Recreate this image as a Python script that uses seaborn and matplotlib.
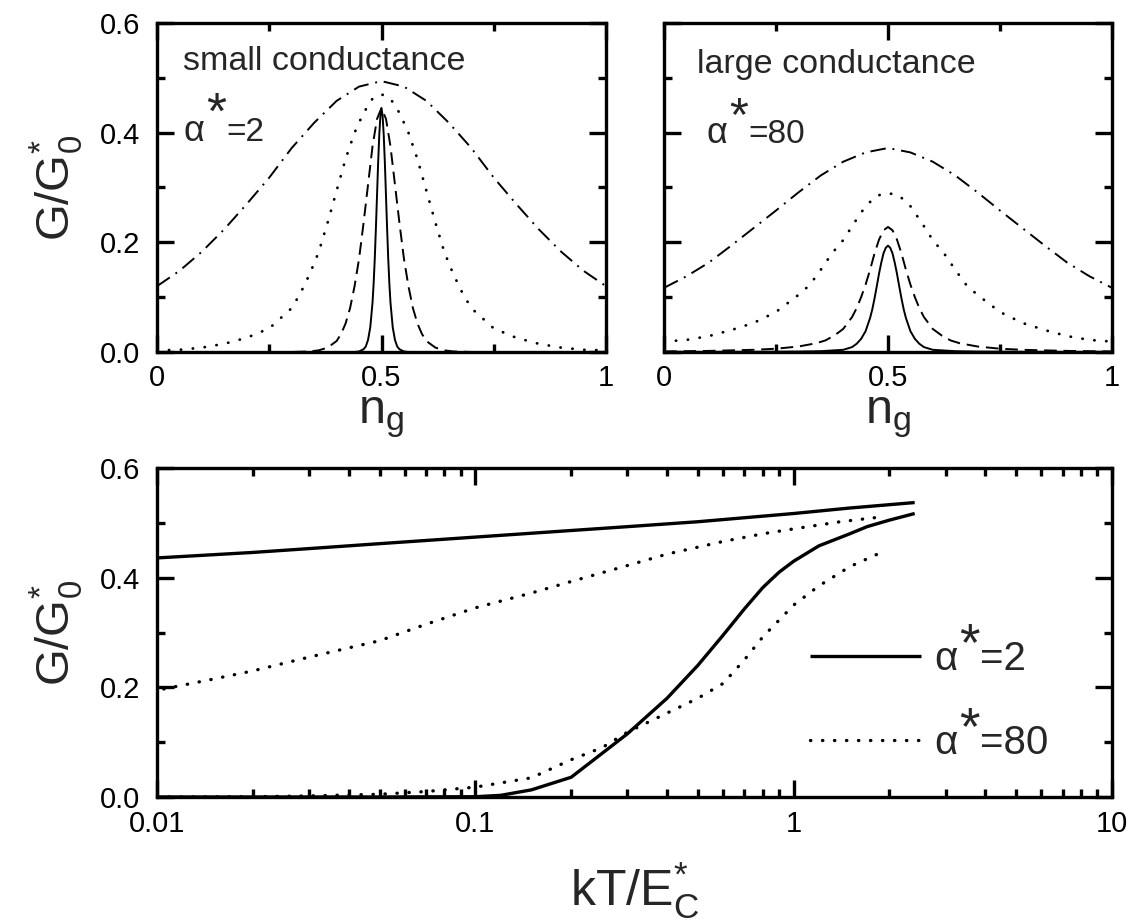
import matplotlib
matplotlib.use("Agg")
import matplotlib.pyplot as plt
import seaborn as sns
from matplotlib.ticker import FixedLocator, LogLocator, NullFormatter

# ---------------- data ----------------
# top-left panel, alpha* = 2 (small conductance), four temperatures
ng_a2_solid = [0, 0.1, 0.2, 0.3, 0.4, 0.44, 0.45, 0.46, 0.465, 0.47, 0.475, 0.48,
               0.4825, 0.485, 0.4875, 0.49, 0.4925, 0.495, 0.4975, 0.5, 0.5025, 0.505,
               0.5075, 0.51, 0.5125, 0.515, 0.5175, 0.52, 0.525, 0.53, 0.535, 0.54,
               0.55, 0.56, 0.6, 0.7, 0.8, 0.9, 1.0]
g_a2_solid = [0, 0, 0, 0, 0, 0, 0.001, 0.005, 0.01, 0.022, 0.045, 0.09,
              0.125, 0.17, 0.225, 0.285, 0.345, 0.395, 0.43, 0.445, 0.43, 0.395,
              0.345, 0.285, 0.225, 0.17, 0.125, 0.09, 0.045, 0.022, 0.01, 0.005,
              0.001, 0, 0, 0, 0, 0, 0]

ng_a2_dashed = [0, 0.1, 0.2, 0.3, 0.34, 0.36, 0.38, 0.4, 0.41, 0.42, 0.43, 0.44, 0.45,
                0.46, 0.47, 0.48, 0.49, 0.5, 0.51, 0.52, 0.53, 0.54, 0.55, 0.56, 0.57,
                0.58, 0.59, 0.6, 0.62, 0.64, 0.66, 0.7, 0.8, 0.9, 1.0]
g_a2_dashed = [0, 0, 0, 0, 0.001, 0.003, 0.008, 0.02, 0.033, 0.052, 0.08, 0.12, 0.17,
               0.235, 0.305, 0.375, 0.425, 0.445, 0.425, 0.375, 0.305, 0.235, 0.17, 0.12, 0.08,
               0.052, 0.033, 0.02, 0.008, 0.003, 0.001, 0, 0, 0, 0]

ng_a2_dotted = [0, 0.05, 0.1, 0.15, 0.2, 0.25, 0.3, 0.32, 0.34, 0.36, 0.38, 0.4, 0.42,
                0.44, 0.46, 0.48, 0.5, 0.52, 0.54, 0.56, 0.58, 0.6, 0.62, 0.64, 0.66,
                0.68, 0.7, 0.75, 0.8, 0.85, 0.9, 0.95, 1.0]
g_a2_dotted = [0.003, 0.004, 0.008, 0.015, 0.026, 0.043, 0.08, 0.108, 0.142, 0.182, 0.236, 0.294, 0.352,
               0.40, 0.436, 0.462, 0.47, 0.462, 0.436, 0.40, 0.352, 0.294, 0.236, 0.182, 0.142,
               0.108, 0.08, 0.043, 0.026, 0.015, 0.008, 0.004, 0.003]

ng_a2_dashdot = [0.0, 0.05, 0.1, 0.15, 0.2, 0.25, 0.3, 0.35, 0.4, 0.45, 0.5,
                 0.55, 0.6, 0.65, 0.7, 0.75, 0.8, 0.85, 0.9, 0.95, 1.0]
g_a2_dashdot = [0.12, 0.148, 0.183, 0.224, 0.27, 0.318, 0.372, 0.418, 0.458, 0.484, 0.494,
                0.484, 0.458, 0.418, 0.372, 0.318, 0.27, 0.224, 0.183, 0.148, 0.12]

# top-right panel, alpha* = 80 (large conductance)
ng_a80_solid = [0, 0.1, 0.2, 0.3, 0.35, 0.4, 0.42, 0.43, 0.44, 0.45, 0.46, 0.465, 0.47,
                0.475, 0.48, 0.485, 0.49, 0.495, 0.5, 0.505, 0.51, 0.515, 0.52, 0.525,
                0.53, 0.535, 0.54, 0.55, 0.56, 0.57, 0.58, 0.6, 0.65, 0.7, 0.8, 0.9, 1.0]
g_a80_solid = [0.0002, 0.0003, 0.0004, 0.0008, 0.0015, 0.004, 0.009, 0.015, 0.024, 0.038, 0.062, 0.078, 0.098,
               0.12, 0.143, 0.163, 0.18, 0.19, 0.194, 0.19, 0.18, 0.163, 0.143, 0.12,
               0.098, 0.078, 0.062, 0.038, 0.024, 0.015, 0.009, 0.004, 0.0015, 0.0008, 0.0004, 0.0003, 0.0002]

ng_a80_dashed = [0, 0.1, 0.2, 0.25, 0.3, 0.34, 0.36, 0.38, 0.4, 0.42, 0.43, 0.44, 0.45,
                 0.46, 0.47, 0.48, 0.49, 0.5, 0.51, 0.52, 0.53, 0.54, 0.55, 0.56, 0.57,
                 0.58, 0.6, 0.62, 0.64, 0.66, 0.7, 0.75, 0.8, 0.9, 1.0]
g_a80_dashed = [0.001, 0.002, 0.004, 0.006, 0.01, 0.016, 0.021, 0.03, 0.042, 0.064, 0.08, 0.1, 0.123,
                0.15, 0.18, 0.205, 0.222, 0.228, 0.222, 0.205, 0.18, 0.15, 0.123, 0.1, 0.08,
                0.064, 0.042, 0.03, 0.021, 0.016, 0.01, 0.006, 0.004, 0.002, 0.001]

ng_a80_dotted = [0, 0.05, 0.1, 0.15, 0.2, 0.25, 0.3, 0.325, 0.35, 0.375, 0.4, 0.425, 0.45,
                 0.475, 0.5, 0.525, 0.55, 0.575, 0.6, 0.625, 0.65, 0.675, 0.7, 0.75, 0.8,
                 0.85, 0.9, 0.95, 1.0]
g_a80_dotted = [0.019, 0.022, 0.029, 0.04, 0.053, 0.073, 0.104, 0.122, 0.15, 0.18, 0.204, 0.236, 0.266,
                0.285, 0.29, 0.285, 0.266, 0.236, 0.204, 0.18, 0.15, 0.122, 0.104, 0.073, 0.053,
                0.04, 0.029, 0.022, 0.019]

ng_a80_dashdot = [0.0, 0.05, 0.1, 0.15, 0.2, 0.25, 0.3, 0.35, 0.4, 0.45, 0.5,
                  0.55, 0.6, 0.65, 0.7, 0.75, 0.8, 0.85, 0.9, 0.95, 1.0]
g_a80_dashdot = [0.117, 0.138, 0.163, 0.194, 0.226, 0.258, 0.291, 0.322, 0.347, 0.364, 0.372,
                 0.364, 0.347, 0.322, 0.291, 0.258, 0.226, 0.194, 0.163, 0.138, 0.117]

# bottom panel: G/G0* vs kT/Ec* (peak and valley of the oscillation)
kt_a2_peak = [0.01, 0.02, 0.03, 0.05, 0.1, 0.2, 0.3, 0.5, 1.0, 1.5, 2.4]
g_a2_peak = [0.436, 0.446, 0.453, 0.462, 0.474, 0.486, 0.493, 0.502, 0.517, 0.527, 0.537]

kt_a2_valley = [0.01, 0.05, 0.1, 0.12, 0.15, 0.2, 0.3, 0.4, 0.5, 0.6, 0.7, 0.8, 0.9, 1.0,
                1.2, 1.5, 1.7, 2.0, 2.4]
g_a2_valley = [0, 0, 0.0005, 0.003, 0.013, 0.036, 0.115, 0.18, 0.24, 0.295, 0.343, 0.382, 0.41, 0.43,
               0.458, 0.48, 0.493, 0.505, 0.517]

kt_a80_peak = [0.0105, 0.015, 0.02, 0.03, 0.05, 0.07, 0.1, 0.15, 0.2, 0.3, 0.4, 0.6, 0.8,
               1.0, 1.4, 1.9]
g_a80_peak = [0.197, 0.215, 0.23, 0.255, 0.285, 0.315, 0.345, 0.372, 0.393, 0.422, 0.443, 0.466, 0.48,
              0.489, 0.502, 0.511]

kt_a80_valley = [0.01, 0.02, 0.03, 0.05, 0.07, 0.1, 0.15, 0.2, 0.25, 0.3, 0.4, 0.5, 0.6,
                 0.7, 0.8, 1.0, 1.2, 1.5, 1.9]
g_a80_valley = [0, 0.0005, 0.002, 0.005, 0.01, 0.018, 0.035, 0.068, 0.09, 0.118, 0.153, 0.18, 0.207,
                0.25, 0.292, 0.35, 0.385, 0.42, 0.447]

ng_ticks = [0, 0.5, 1]
ng_ticklabels = ["0", "0.5", "1"]
g_ticks = [0, 0.2, 0.4, 0.6]
g_ticklabels = ["0.0", "0.2", "0.4", "0.6"]
kt_ticks = [0.01, 0.1, 1, 10]
kt_ticklabels = ["0.01", "0.1", "1", "10"]
alpha_values = ["=2", "=80"]

# ---------------- style ----------------
sns.set_style("ticks")
plt.rcParams.update({
    "font.family": ["Liberation Sans", "DejaVu Sans"],
    "mathtext.fontset": "custom",
    "mathtext.rm": "Liberation Sans",
    "mathtext.it": "Liberation Sans",
    "mathtext.bf": "Liberation Sans:bold",
    "mathtext.sf": "Liberation Sans",
    "mathtext.default": "regular",
    "axes.linewidth": 2.4,
    "axes.edgecolor": "black",
    "xtick.direction": "in", "ytick.direction": "in",
    "xtick.top": True, "ytick.right": True,
    "xtick.major.size": 12, "ytick.major.size": 12,
    "xtick.minor.size": 6, "ytick.minor.size": 6,
    "xtick.major.width": 2.4, "ytick.major.width": 2.4,
    "xtick.minor.width": 2.4, "ytick.minor.width": 2.4,
    "xtick.color": "black", "ytick.color": "black",
    "xtick.labelsize": 21, "ytick.labelsize": 21,
    "xtick.major.pad": 9, "ytick.major.pad": 12,
})

DASHED = (0, (6.5, 3.5))
DOTTED = (0, (0.1, 4.2))
DASHDOT = (0, (8, 3.5, 1, 3.5))
DOTTED_B = (0, (0.1, 3.5))


def draw(ax, x, y, lw, ls, cap="butt"):
    sns.lineplot(x=x, y=y, ax=ax, color="black", linewidth=lw, linestyle=ls,
                 dash_capstyle=cap, solid_capstyle="butt", errorbar=None,
                 estimator=None, sort=False, legend=False)
    return ax.lines[-1]


def star_label(ax, t_alpha, rest, size, ast_size, dy, dx=1.5, y_coord=None):
    """Put a large raised asterisk and the value after an 'α' text artist."""
    t_ast = ax.annotate("*", xy=(1, 1), xycoords=t_alpha, xytext=(dx, dy),
                        textcoords="offset points", ha="left", va="top",
                        fontsize=ast_size, zorder=10, annotation_clip=False)
    if y_coord is None:
        ax.annotate(rest, xy=(1, 0), xycoords=(t_ast, t_alpha), xytext=(0, 0),
                    textcoords="offset points", ha="left", va="bottom",
                    fontsize=size, zorder=10, annotation_clip=False)
    else:
        ax.annotate(rest, xy=(1, y_coord), xycoords=(t_ast, "axes fraction"),
                    xytext=(0, 0), textcoords="offset points", ha="left",
                    va="baseline", fontsize=size, zorder=10, annotation_clip=False)


W, H = 1133, 921
fig = plt.figure(figsize=(W / 100, H / 100), dpi=100)
ax1 = fig.add_axes([157 / W, 1 - 352 / H, 449 / W, 329 / H])
ax2 = fig.add_axes([664 / W, 1 - 352 / H, 448 / W, 329 / H])
ax3 = fig.add_axes([157 / W, 1 - 797 / H, 955 / W, 329 / H])

# top-left
draw(ax1, ng_a2_dashdot, g_a2_dashdot, 1.4, DASHDOT)
draw(ax1, ng_a2_dotted, g_a2_dotted, 2.0, DOTTED, cap="round")
draw(ax1, ng_a2_dashed, g_a2_dashed, 1.4, DASHED)
draw(ax1, ng_a2_solid, g_a2_solid, 1.4, "-")
# top-right
draw(ax2, ng_a80_dashdot, g_a80_dashdot, 1.4, DASHDOT)
draw(ax2, ng_a80_dotted, g_a80_dotted, 2.0, DOTTED, cap="round")
draw(ax2, ng_a80_dashed, g_a80_dashed, 1.4, DASHED)
draw(ax2, ng_a80_solid, g_a80_solid, 1.4, "-")

for ax in (ax1, ax2):
    ax.set_xlim(0, 1)
    ax.set_ylim(0, 0.6)
    ax.set_xticks(ng_ticks, ng_ticklabels)
    ax.xaxis.set_minor_locator(FixedLocator([0.25, 0.75]))
    ax.set_yticks(g_ticks, g_ticklabels)
    ax.yaxis.set_minor_locator(FixedLocator([0.1, 0.3, 0.5]))
    ax.set_xlabel("n$_{g}$", fontsize=35, labelpad=2)
    ax.set_ylabel("")
ax2.tick_params(axis="y", which="both", labelleft=False)
ax1.set_ylabel("G/G$_{0}^{*}$", fontsize=34, labelpad=11)

ax1.text(0.059, 0.857, "small conductance", transform=ax1.transAxes,
         fontsize=24.5, va="baseline", ha="left")
ta1 = ax1.text(0.058, 0.64, "α", transform=ax1.transAxes,
               fontsize=26, va="baseline", ha="left")
star_label(ax1, ta1, alpha_values[0], 24, 37, 17, y_coord=0.64)
ax2.text(0.074, 0.848, "large conductance", transform=ax2.transAxes,
         fontsize=24.5, va="baseline", ha="left")
ta2 = ax2.text(0.094, 0.635, "α", transform=ax2.transAxes,
               fontsize=26, va="baseline", ha="left")
star_label(ax2, ta2, alpha_values[1], 24, 35, 15, y_coord=0.635)

# bottom
ax3.set_xscale("log")
h_solid = draw(ax3, kt_a2_peak, g_a2_peak, 2.4, "-")
draw(ax3, kt_a2_valley, g_a2_valley, 2.4, "-")
h_dot = draw(ax3, kt_a80_peak, g_a80_peak, 2.4, DOTTED_B, cap="round")
draw(ax3, kt_a80_valley, g_a80_valley, 2.4, DOTTED_B, cap="round")
ax3.set_xlim(0.01, 10)
ax3.set_ylim(0, 0.6)
ax3.set_xticks(kt_ticks, kt_ticklabels)
ax3.xaxis.set_minor_locator(LogLocator(base=10, subs=range(2, 10)))
ax3.xaxis.set_minor_formatter(NullFormatter())
ax3.set_yticks(g_ticks, g_ticklabels)
ax3.yaxis.set_minor_locator(FixedLocator([0.1, 0.3, 0.5]))
ax3.set_xlabel("kT/E$_{C}^{*}$", fontsize=36, labelpad=16)
ax3.set_ylabel("G/G$_{0}^{*}$", fontsize=34, labelpad=11)

leg = ax3.legend(handles=[h_solid, h_dot], labels=["α", "α"], loc="center left",
                 bbox_to_anchor=(0.684, 0.2915), frameon=False, fontsize=29,
                 handlelength=2.75, handletextpad=0.32, labelspacing=1.14,
                 borderpad=0, borderaxespad=0)
for t_leg, val in zip(leg.get_texts(), alpha_values):
    star_label(ax3, t_leg, val, 29, 38, 14)

fig.savefig("out.png", dpi=100)
